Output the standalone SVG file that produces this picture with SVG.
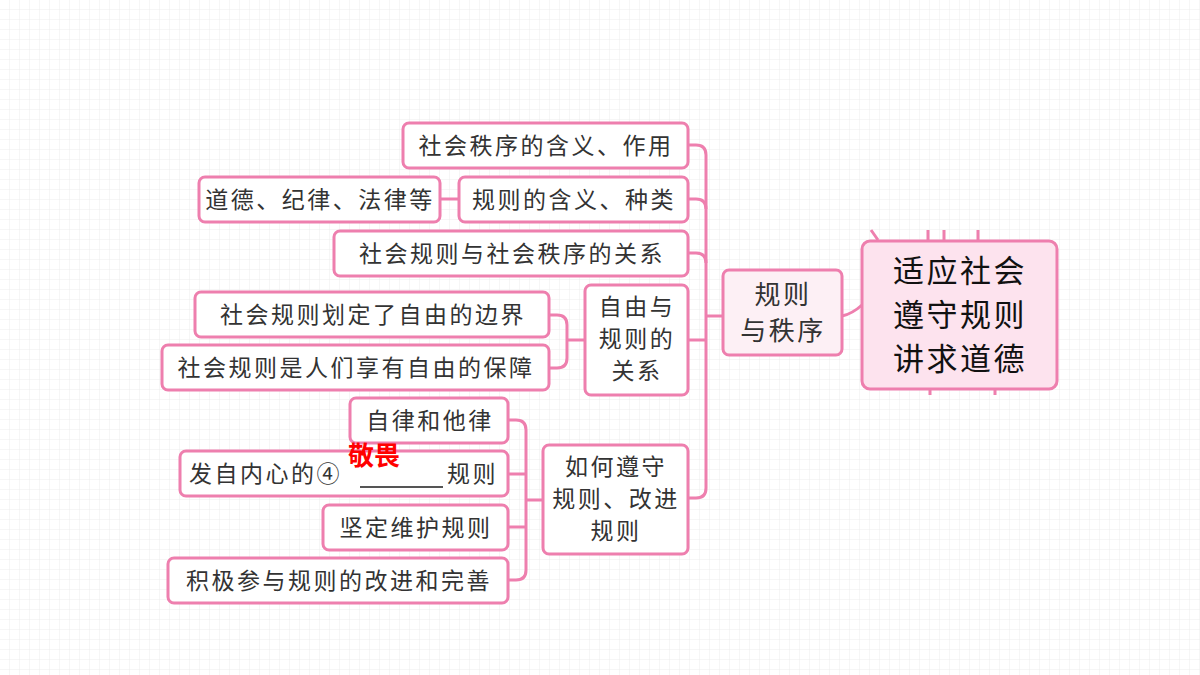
<svg xmlns="http://www.w3.org/2000/svg" width="1200" height="675" viewBox="0 0 1200 675">
<defs>
<pattern id="g" width="10" height="10" patternUnits="userSpaceOnUse"><path d="M10 0V10H0" fill="none" stroke="#ececec" stroke-width="1"/></pattern>
<style>
.b rect{fill:#fff;stroke:#ee7fae;stroke-width:3}
.b text{font-family:"Noto Sans CJK SC",sans-serif;font-size:23px;letter-spacing:2.5px;fill:#333;text-anchor:middle}
#conn path{fill:none;stroke:#ee7fae;stroke-width:3}
</style>
</defs>
<rect width="1200" height="675" fill="#fff"/>
<rect width="1200" height="675" fill="url(#g)"/>
<g id="conn">
<path d="M688 145H696Q706 145 706 155V488Q706 498 696 498H688"/>
<path d="M688 199H696Q706 199 706 209"/>
<path d="M688 253H696Q706 253 706 263"/>
<path d="M688 340H706"/>
<path d="M706 316H723"/>
<path d="M440 199H459"/>
<path d="M842 316Q852 314 862 305"/>
<path d="M549 315H557Q567 315 567 325V358Q567 368 557 368H549"/>
<path d="M567 340H585"/>
<path d="M508 420H516Q526 420 526 430V570Q526 580 516 580H508"/>
<path d="M508 474H526M508 527H526M526 500H543"/>
<path d="M871 230L878 240M928 230V240M944 230V240M978 230V240M930 389V395M995 389V395" stroke-width="2"/>
</g>
<g id="n1" class="b"><rect x="403" y="123" width="285" height="45" rx="6"/><text x="546" y="154">社会秩序的含义、作用</text></g>
<g id="n2" class="b"><rect x="459" y="177" width="229" height="45" rx="6"/><text x="574" y="208">规则的含义、种类</text></g>
<g id="n3" class="b"><rect x="199" y="177" width="241" height="45" rx="6"/><text x="320" y="208">道德、纪律、法律等</text></g>
<g id="n4" class="b"><rect x="334" y="231" width="354" height="45" rx="6"/><text x="512" y="262">社会规则与社会秩序的关系</text></g>
<g id="n5" class="b"><rect x="585" y="285" width="103" height="110" rx="6"/><text x="637" y="315">自由与</text><text x="637" y="347">规则的</text><text x="637" y="379">关系</text></g>
<g id="n6" class="b"><rect x="195" y="292" width="354" height="45" rx="6"/><text x="373" y="323">社会规则划定了自由的边界</text></g>
<g id="n7" class="b"><rect x="162" y="345" width="387" height="45" rx="6"/><text x="356" y="376">社会规则是人们享有自由的保障</text></g>
<g id="n8" class="b"><rect x="543" y="445" width="145" height="109" rx="6"/><text x="616" y="475">如何遵守</text><text x="616" y="507">规则、改进</text><text x="616" y="539">规则</text></g>
<g id="n9" class="b"><rect x="350" y="398" width="158" height="45" rx="6"/><text x="430" y="429">自律和他律</text></g>
<g id="n10" class="b"><rect x="180" y="451" width="328" height="45" rx="6"/><text x="189" y="482" style="text-anchor:start">发自内心的④</text><text x="498" y="482" style="text-anchor:end">规则</text><path d="M360 487H443" stroke="#555" stroke-width="2"/></g>
<text x="374" y="465" font-family="Noto Sans CJK SC,sans-serif" font-size="26" font-weight="bold" fill="#f00" text-anchor="middle">敬畏</text>
<g id="n11" class="b"><rect x="323" y="505" width="185" height="45" rx="6"/><text x="416" y="536">坚定维护规则</text></g>
<g id="n12" class="b"><rect x="168" y="558" width="340" height="45" rx="6"/><text x="339" y="589">积极参与规则的改进和完善</text></g>
<g id="n13" class="b"><rect x="723" y="270" width="119" height="85" rx="6" style="fill:#fdf0f5"/><text x="783" y="304" style="font-size:26px">规则</text><text x="783" y="340" style="font-size:26px">与秩序</text></g>
<g id="n14" class="b"><rect x="862" y="241" width="195" height="148" rx="8" style="fill:#fde3ee"/><text x="960" y="282" style="font-size:31px;fill:#111">适应社会</text><text x="960" y="326" style="font-size:31px;fill:#111">遵守规则</text><text x="960" y="370" style="font-size:31px;fill:#111">讲求道德</text></g>
</svg>
